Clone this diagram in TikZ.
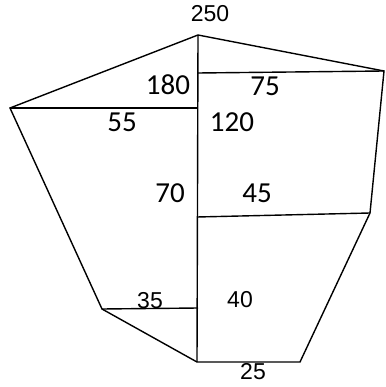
\documentclass[tikz,border=0pt]{standalone}
\usepackage{fontspec}
\setmainfont{Carlito}
\newfontfamily\arialf{Liberation Sans}
\begin{document}
\begin{tikzpicture}[x=1pt,y=-1pt,line width=1.4pt,
  lblc/.style={font=\fontsize{29}{29}\selectfont, inner sep=0pt},
  lbla/.style={font=\arialf\fontsize{23}{23}\selectfont, inner sep=0pt}]
\useasboundingbox (0,0) rectangle (385,387);
\coordinate (T) at (198,35);
\coordinate (R) at (384,71);
\coordinate (RH) at (198,73);
\coordinate (L) at (10,108);
\coordinate (LH) at (198,108);
\coordinate (RM) at (370,213);
\coordinate (CM) at (197,217);
\coordinate (LB) at (102,309);
\coordinate (CB35) at (198,308);
\coordinate (B) at (197,362);
\coordinate (BR) at (300,362);
\draw (L) -- (T) -- (R) -- (RM) -- (BR) -- (B) -- (LB) -- cycle;
\draw (T) -- (B);
\draw (RH) -- (R);
\draw (L) -- (LH);
\draw (CM) -- (RM);
\draw (LB) -- (CB35);
\node[lbla] (n250) at (210,14) {250};
\node[lblc] (n180) at (168,85) {180};
\node[lblc] (n75) at (265,86) {75};
\node[lblc] (n55) at (122,122) {55};
\node[lblc] (n120) at (232,122) {120};
\node[lblc] (n70) at (170,193) {70};
\node[lblc] (n45) at (257,193) {45};
\node[lbla] (n35) at (150,301) {35};
\node[lbla] (n40) at (240,300) {40};
\node[lbla] (n25) at (253,372) {25};
\end{tikzpicture}
\end{document}
